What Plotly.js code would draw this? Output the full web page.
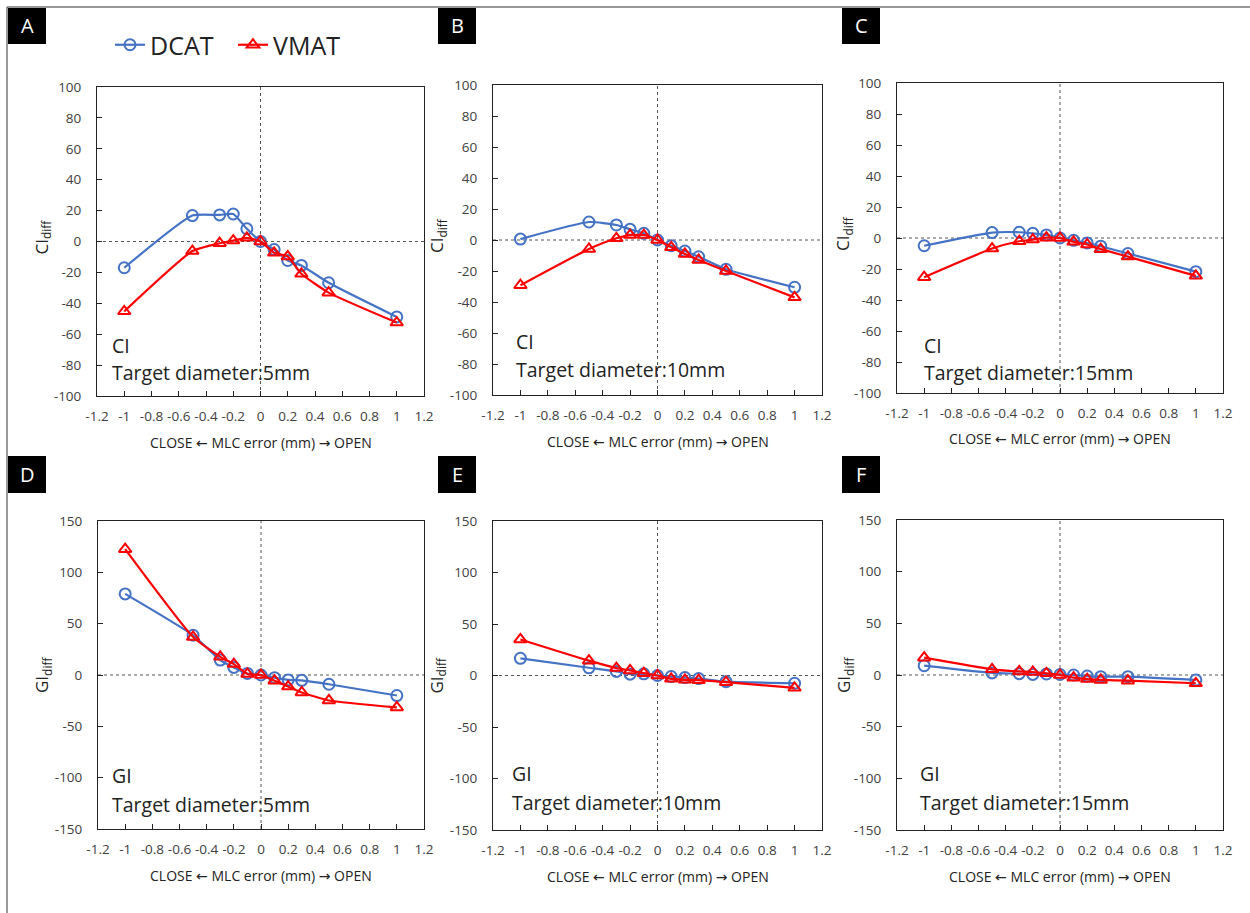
<!DOCTYPE html>
<html><head><meta charset="utf-8">
<script src="https://cdn.plot.ly/plotly-3.0.1.min.js"></script>
<style>html,body{margin:0;padding:0;background:#fff;}#chart{width:1250px;height:913px;}</style>
</head><body><div id="chart"></div>
<script>
// MLC error (mm)
const mlcError = [-1, -0.5, -0.3, -0.2, -0.1, 0, 0.1, 0.2, 0.3, 0.5, 1];

// CI diff
const ciDcat5  = [-17, 16.8, 17.2, 17.8, 8.2, 0, -5.2, -12.3, -15.5, -26.7, -48.8];
const ciVmat5  = [-45.2, -6.2, -1.1, 0.6, 2.4, 0, -7.3, -9.7, -20.9, -33.1, -52.5];
const ciDcat10 = [0.6, 11.6, 9.7, 6.9, 4.3, 0, -3.7, -7.1, -10.8, -18.9, -30.5];
const ciVmat10 = [-29.2, -5.8, 1.1, 3.2, 3.2, 0, -4.7, -9, -12.9, -20, -37];
const ciDcat15 = [-5, 3.5, 3.7, 3, 2, 0, -1.5, -3.2, -5.3, -10, -21.7];
const ciVmat15 = [-25.3, -6.8, -2.1, -1, 0.2, 0, -2.5, -4.2, -7.2, -12, -24.4];

// GI diff
const giDcat5  = [79, 38.7, 14.5, 7.4, 1.5, 0, -2.6, -4.8, -5.2, -9, -20];
const giVmat5  = [122.6, 37, 17.7, 10.6, 1, 0, -5.5, -11.3, -17, -24.8, -31.6];
const giDcat10 = [16.7, 7.5, 4, 1.3, 1.6, 0, -1, -2, -3, -6, -7.5];
const giVmat10 = [35, 14.4, 7.2, 4.9, 2.3, 0, -3.2, -4.2, -4.5, -6.5, -12];
const giDcat15 = [9, 2, 1.3, 0.6, 1, 0.5, 0, -1, -1.6, -1.6, -4.8];
const giVmat15 = [16.8, 5.5, 3.5, 2.9, 1.6, 0, -2.6, -3.9, -4.8, -5.5, -8];

// tick labels
const xTickVals = [-1.2, -1, -0.8, -0.6, -0.4, -0.2, 0, 0.2, 0.4, 0.6, 0.8, 1, 1.2];
const xTickText = ["-1.2", "-1", "-0.8", "-0.6", "-0.4", "-0.2", "0", "0.2", "0.4", "0.6", "0.8", "1", "1.2"];
const ciTickVals = [-100, -80, -60, -40, -20, 0, 20, 40, 60, 80, 100];
const ciTickText = ["-100", "-80", "-60", "-40", "-20", "0", "20", "40", "60", "80", "100"];
const giTickVals = [-150, -100, -50, 0, 50, 100, 150];
const giTickText = ["-150", "-100", "-50", "0", "50", "100", "150"];

const panelLetters = ["A", "B", "C", "D", "E", "F"];
const metricNames = ["CI", "CI", "CI", "GI", "GI", "GI"];
const diameters = ["5mm", "10mm", "15mm", "5mm", "10mm", "15mm"];

const W = 1250, H = 913;
const px = v => v / W;
const py = v => 1 - v / H;

const BLUE = "#4472C4", RED = "#FF0000";
const FONT = "Open Sans, Noto Sans, sans-serif";
const ARROW_STYLE = "font-family:DejaVu Sans";

// plot boxes in pixels [x0, x1, y0(top), y1(bottom)]
const boxes = [
  [97, 424, 87, 396],
  [493, 822, 85, 395],
  [897, 1223, 83, 393],
  [98, 424, 521, 829],
  [493, 822, 521, 830],
  [897, 1223, 520, 830]
];
const dcatSeries = [ciDcat5, ciDcat10, ciDcat15, giDcat5, giDcat10, giDcat15];
const vmatSeries = [ciVmat5, ciVmat10, ciVmat15, giVmat5, giVmat10, giVmat15];

const traces = [];
const layout = {
  width: W, height: H,
  margin: {l: 0, r: 0, t: 0, b: 0},
  paper_bgcolor: "#fff", plot_bgcolor: "#fff",
  showlegend: true,
  legend: {
    orientation: "h", x: px(110), y: py(22), xanchor: "left", yanchor: "top",
    font: {family: FONT, size: 25, color: "#222"},
    itemwidth: 30, tracegroupgap: 0, bgcolor: "rgba(0,0,0,0)",
    entrywidth: 78, entrywidthmode: "pixels"
  },
  shapes: [], annotations: []
};

// frame
layout.shapes.push({type: "line", xref: "paper", yref: "paper", x0: px(7), x1: 1, y0: py(7), y1: py(7), line: {color: "#333", width: 1}});
layout.shapes.push({type: "line", xref: "paper", yref: "paper", x0: px(7), x1: px(7), y0: py(7), y1: 0, line: {color: "#333", width: 1}});

const letterBoxes = [[8, 46, 8, 44], [438, 476, 8, 44], [842, 880, 8, 44], [8, 46, 456, 493], [438, 476, 456, 493], [842, 880, 456, 493]];
const yTitleX = [42, 437, 844, 42, 437, 844];
const textX = [110, 514, 922, 110, 510, 918];
const textY1 = [345, 341, 345, 775, 773, 773];
const textY2 = [373, 369, 373, 804, 802, 802];

for (let i = 0; i < 6; i++) {
  const n = i + 1;
  const xa = "xaxis" + (n === 1 ? "" : n), ya = "yaxis" + (n === 1 ? "" : n);
  const xr = "x" + (n === 1 ? "" : n), yr = "y" + (n === 1 ? "" : n);
  const b = boxes[i];
  const isCI = i < 3;
  const yRange = isCI ? [-100, 100] : [-150, 150];

  layout[xa] = {
    domain: [px(b[0]), px(b[1])], anchor: yr, range: [-1.2, 1.2],
    tickvals: xTickVals, ticktext: xTickText, ticks: "inside", ticklen: 5,
    tickcolor: "#222", showline: true, linecolor: "#222", linewidth: 1, mirror: true,
    showgrid: false, zeroline: false, fixedrange: true,
    tickfont: {family: FONT, size: 13.5, color: "#404040"}, ticklabelstandoff: 8
  };
  layout[ya] = {
    domain: [py(b[3]), py(b[2])], anchor: xr, range: yRange,
    tickvals: isCI ? ciTickVals : giTickVals, ticktext: isCI ? ciTickText : giTickText,
    ticks: "inside", ticklen: 5, tickcolor: "#222",
    showline: true, linecolor: "#222", linewidth: 1, mirror: true,
    showgrid: false, zeroline: false, fixedrange: true,
    tickfont: {family: FONT, size: 13.5, color: "#404040"}, ticklabelstandoff: 12
  };

  // dotted zero lines
  layout.shapes.push({type: "line", xref: xr, yref: yr, x0: 0, x1: 0, y0: yRange[0], y1: yRange[1], line: {color: "#555", width: 1, dash: "dot"}, layer: "below"});
  layout.shapes.push({type: "line", xref: xr, yref: yr, x0: -1.2, x1: 1.2, y0: 0, y1: 0, line: {color: "#555", width: 1, dash: "dot"}, layer: "below"});

  traces.push({
    x: mlcError, y: dcatSeries[i], xaxis: xr, yaxis: yr, name: "DCAT",
    type: "scatter", mode: "lines+markers", showlegend: i === 0, legendgroup: "dcat",
    line: {color: BLUE, width: 2.2, shape: "spline", smoothing: 0.5},
    marker: {symbol: "circle-open", size: 11, color: BLUE, line: {width: 2, color: BLUE}}
  });
  traces.push({
    x: mlcError, y: vmatSeries[i], xaxis: xr, yaxis: yr, name: "VMAT",
    type: "scatter", mode: "lines+markers", showlegend: i === 0, legendgroup: "vmat",
    line: {color: RED, width: 2.2, shape: "spline", smoothing: 0.5},
    marker: {symbol: "triangle-up-open", size: 11, color: RED, line: {width: 2, color: RED}}
  });

  // panel letter
  const lb = letterBoxes[i];
  layout.shapes.push({type: "rect", xref: "paper", yref: "paper", x0: px(lb[0]), x1: px(lb[1]), y0: py(lb[3]), y1: py(lb[2]), fillcolor: "#000", line: {width: 0}});
  layout.annotations.push({xref: "paper", yref: "paper", x: px((lb[0] + lb[1]) / 2), y: py((lb[2] + lb[3]) / 2), text: panelLetters[i], showarrow: false, font: {family: FONT, size: 20, color: "#fff"}, xanchor: "center", yanchor: "middle"});

  // y title
  layout.annotations.push({xref: "paper", yref: "paper", x: px(yTitleX[i]), y: py(isCI ? (b[2] + b[3]) / 2 - 4 : (b[2] + b[3]) / 2), text: metricNames[i] + "<sub>diff</sub>", textangle: -90, showarrow: false, font: {family: FONT, size: 17, color: "#222"}, xanchor: "center", yanchor: "middle"});

  // x title
  layout.annotations.push({xref: "paper", yref: "paper", x: px((b[0] + b[1]) / 2), y: py(b[3] + 46), text: "CLOSE <span style='" + ARROW_STYLE + "'>←</span> MLC error (mm) <span style='" + ARROW_STYLE + "'>→</span> OPEN", showarrow: false, font: {family: FONT, size: 14, color: "#222"}, xanchor: "center", yanchor: "middle"});

  // in-plot labels
  layout.annotations.push({xref: "paper", yref: "paper", x: px(textX[i]), y: py(textY1[i]), text: metricNames[i], showarrow: false, font: {family: FONT, size: 19.5, color: "#222"}, xanchor: "left", yanchor: "middle"});
  layout.annotations.push({xref: "paper", yref: "paper", x: px(textX[i]), y: py(textY2[i]), text: "Target diameter:" + diameters[i], showarrow: false, font: {family: FONT, size: 19.5, color: "#222"}, xanchor: "left", yanchor: "middle"});
}

Plotly.newPlot("chart", traces, layout, {displayModeBar: false, staticPlot: true});
</script></body></html>
